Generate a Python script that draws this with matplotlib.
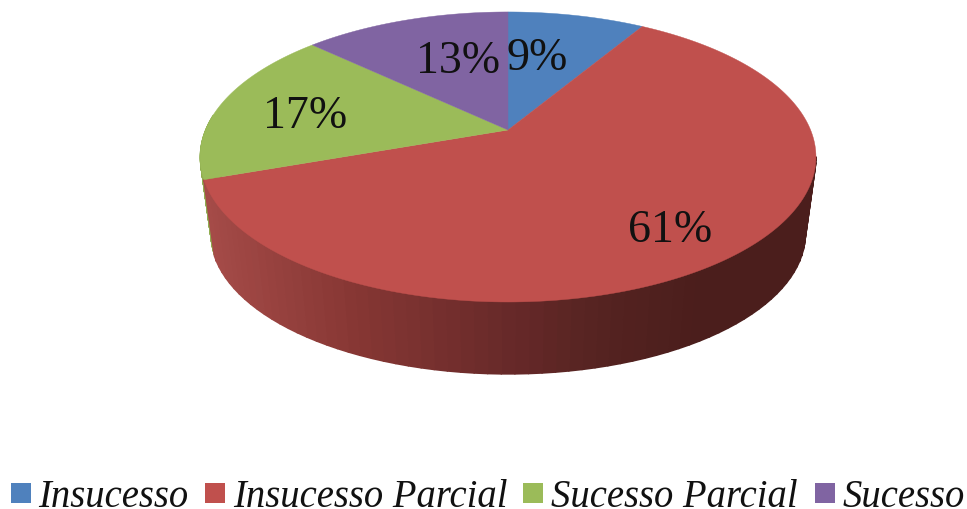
"""Pie chart with a fake 3D look, drawn in pixel coordinates."""
import numpy as np
import matplotlib
matplotlib.use('Agg')
import matplotlib.pyplot as plt
from matplotlib.collections import PolyCollection
from matplotlib.patches import Rectangle

# data
categories = ['Insucesso', 'Insucesso Parcial', 'Sucesso Parcial', 'Sucesso']
percent = [8.6, 61.0, 17.4, 13.0]
colors = ['#4F81BD', '#C0504D', '#9BBB59', '#8064A2']

# layout, pixels of the 967x510 image
cx = 508
tilt = 0.186  # perspective strength
top_disk = (302.6, 140.0, 131.0)  # half width, half height, y of centre
bottom_disk = (292.0, 135.0, 209.0)
label_pos = [(537, 59), (670, 231), (305, 117), (458, 62)]
legend_box_x = [11, 205, 523, 815]
legend_text_x = [38, 233, 551, 843]

# shading of the side wall, by x position
shade_x = [205, 350, 500, 600, 700, 815]
shade_r = [165, 135, 105, 85, 75, 75]
shade_g = [75, 55, 42, 35, 30, 30]
shade_b = [72, 52, 42, 33, 28, 28]


def project(phi, disk, r=1.0):
    """phi is clockwise from 12 o'clock, in radians."""
    a, b, y0 = disk
    u = r * np.sin(phi)
    v = r * np.cos(phi)
    den = 1 + tilt * v
    return cx + a * u / den, y0 - b * v / den


def side_quads(phi_from, phi_to, n=70):
    phi = np.linspace(phi_from, phi_to, n)
    xt, yt = project(phi, top_disk)
    xb, yb = project(phi, bottom_disk)
    quads = []
    for i in range(n - 1):
        quads.append([(xt[i], yt[i]), (xt[i + 1], yt[i + 1]),
                      (xb[i + 1], yb[i + 1]), (xb[i], yb[i])])
    return quads, (xt[:-1] + xt[1:]) / 2


fig = plt.figure(figsize=(9.67, 5.10), dpi=100)
ax = fig.add_axes([0, 0, 1, 1])
ax.set_xlim(0, 967)
ax.set_ylim(510, 0)
ax.axis('off')

edges = np.cumsum([0] + percent) / sum(percent) * 2 * np.pi

# thin bit of green wall on the far left
quads, _ = side_quads(edges[2], edges[2] + 0.45)
ax.add_collection(PolyCollection(quads, facecolors='#8FAD50', edgecolors='#8FAD50', linewidths=0.5))

# red wall, only the part which faces us
start = np.pi / 2 + np.arcsin(tilt)
quads, xmid = side_quads(start, edges[2])
wall = np.column_stack([np.interp(xmid, shade_x, shade_r),
                        np.interp(xmid, shade_x, shade_g),
                        np.interp(xmid, shade_x, shade_b)]) / 255
ax.add_collection(PolyCollection(quads, facecolors=wall, edgecolors=wall, linewidths=1.2))

# top of the pie
for i, col in enumerate(colors):
    phi = np.linspace(edges[i], edges[i + 1], 200)
    x, y = project(phi, top_disk)
    x0, y0 = project(0.0, top_disk, r=0.0)
    ax.fill(np.r_[x0, x], np.r_[y0, y], color=col, lw=0.3)

for (x, y), p in zip(label_pos, percent):
    ax.text(x, y, f'{p:.0f}%', ha='center', va='center', fontsize=33,
            family='Liberation Serif', color='#111111')

# legend
for name, col, bx, tx in zip(categories, colors, legend_box_x, legend_text_x):
    ax.add_patch(Rectangle((bx, 484), 20, 20, facecolor=col, edgecolor='none'))
    ax.text(tx, 507, name, ha='left', va='baseline', fontsize=27.8,
            family='Liberation Serif', style='italic', color='#111111')

fig.savefig('out.png', dpi=100)
